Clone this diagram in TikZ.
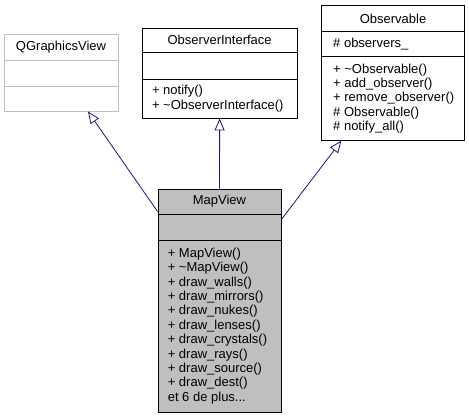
\documentclass[tikz,border=0pt]{standalone}
\usepackage{fontspec}
\setmainfont{Liberation Sans}
\usetikzlibrary{arrows.meta}
\definecolor{edgeblue}{HTML}{191970}
\definecolor{boxgray}{HTML}{BFBFBF}
\tikzset{
  classbox/.style={rectangle, draw=black, line width=0.9pt, inner sep=0pt},
  sepline/.style={line width=0.9pt},
  title/.style={inner sep=0pt, font=\fontsize{13}{14.4}\selectfont},
  members/.style={anchor=west, align=left, inner sep=0pt, font=\fontsize{13}{14.4}\selectfont},
  inherit/.style={draw=edgeblue, line width=0.8pt, -{Triangle[open, length=12pt, width=10pt, fill=white]}}
}

\begin{document}
\begin{tikzpicture}[x=1pt, y=-1pt]
\useasboundingbox (0,0) rectangle (469,419);

\node[classbox, draw=boxgray, minimum width=114, minimum height=76.7] (qgraphicsview) at (61,72.65) {};
\node[classbox, minimum width=154.7, minimum height=90] (observerif) at (219.65,73) {};
\node[classbox, minimum width=142.6, minimum height=134.6] (observable) at (393,73) {};
\node[classbox, fill=boxgray, minimum width=123, minimum height=223] (mapview) at (219.5,300.5) {};

\draw[sepline, boxgray] (4,60.7) -- (118,60.7)
                        (4,86) -- (118,86);
\draw[sepline] (142.3,52.7) -- (297,52.7)
               (142.3,79) -- (297,79);
\draw[sepline] (321.7,31.7) -- (464.3,31.7)
               (321.7,56.7) -- (464.3,56.7);
\draw[sepline] (158,214) -- (281,214)
               (158,240) -- (281,240);

\node[title] (qgraphicsviewname) at (61,47.5) {QGraphicsView};
\node[title] (observerifname) at (219.65,40.3) {ObserverInterface};
\node[members] (observerifops) at (151.8,98.5) {+ notify()\\+ \textasciitilde ObserverInterface()};
\node[title] (observablename) at (393,18.7) {Observable};
\node[members] (observableattr) at (333,44.2) {\# observers\_};
\node[members] (observableops) at (333,98.5) {+ \textasciitilde Observable()\\+ add\_observer()\\+ remove\_observer()\\\# Observable()\\\# notify\_all()};
\node[title] (mapviewname) at (219.5,201.5) {MapView};
\node[members] (mapviewops) at (167.6,326) {+ MapView()\\+ \textasciitilde MapView()\\+ draw\_walls()\\+ draw\_mirrors()\\+ draw\_nukes()\\+ draw\_lenses()\\+ draw\_crystals()\\+ draw\_rays()\\+ draw\_source()\\+ draw\_dest()\\et 6 de plus...};

\draw[inherit] (mapview) -- (qgraphicsview);
\draw[inherit] (mapview) -- (observerif);
\draw[inherit] (mapview) -- (observable);
\end{tikzpicture}
\end{document}
